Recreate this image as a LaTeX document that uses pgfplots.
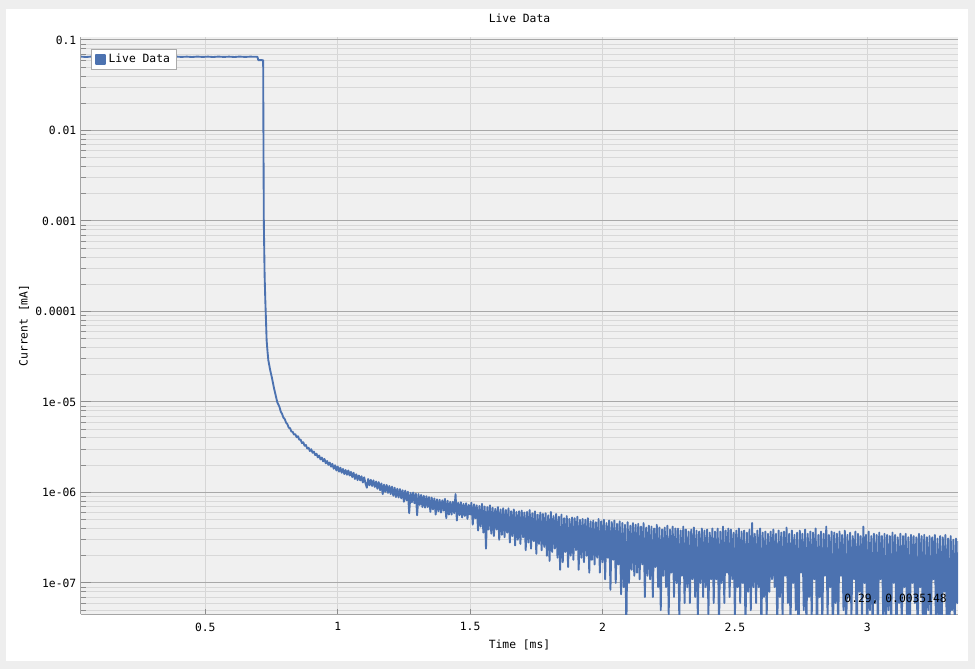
\documentclass[border=0pt]{standalone}
\usepackage{fontspec}
\setmainfont{DejaVu Sans Mono}
\usepackage{pgfplots}
\pgfplotsset{compat=1.18}
\definecolor{outerbg}{RGB}{238,238,238}
\definecolor{plotbg}{RGB}{240,240,240}
\definecolor{majorgrid}{RGB}{168,168,168}
\definecolor{minorgrid}{RGB}{216,216,216}
\definecolor{xgrid}{RGB}{214,214,214}
\definecolor{axiscol}{RGB}{165,165,165}
\definecolor{tickcol}{RGB}{140,140,140}
\definecolor{legborder}{RGB}{170,170,170}
\definecolor{liveblue}{RGB}{76,114,176}
\newcommand\lf{\fontsize{8.5}{10}\selectfont}
\begin{document}
\begin{tikzpicture}
\useasboundingbox (0,0) rectangle (731.25pt,501.75pt);
\fill[outerbg] (0,0) rectangle (731.25pt,501.75pt);
\fill[white] (4.5pt,6pt) rectangle (726pt,495pt);
\begin{axis}[
  at={(60.75pt,41.25pt)}, anchor=south west,
  scale only axis, width=657.75pt, height=432.75pt,
  ymode=log, xmin=0.0306, xmax=3.3425, ymin=4.54e-8, ymax=0.1079,
  axis lines*=left,
  axis line style={-, draw=axiscol, line width=0.75pt},
  axis background/.style={fill=plotbg},
  xtick={0.5,1,1.5,2,2.5,3},
  xticklabels={0.5,1,1.5,2,2.5,3},
  ytick={1e-7,1e-6,1e-5,1e-4,1e-3,1e-2,1e-1},
  yticklabels={1e-07,1e-06,1e-05,0.0001,0.001,0.01,0.1},
  minor ytick={5e-8,6e-8,7e-8,8e-8,9e-8,
    2e-7,3e-7,4e-7,5e-7,6e-7,7e-7,8e-7,9e-7,
    2e-6,3e-6,4e-6,5e-6,6e-6,7e-6,8e-6,9e-6,
    2e-5,3e-5,4e-5,5e-5,6e-5,7e-5,8e-5,9e-5,
    2e-4,3e-4,4e-4,5e-4,6e-4,7e-4,8e-4,9e-4,
    2e-3,3e-3,4e-3,5e-3,6e-3,7e-3,8e-3,9e-3,
    2e-2,3e-2,4e-2,5e-2,6e-2,7e-2,8e-2,9e-2},
  tick align=inside,
  major tick length=7.5pt, minor tick length=3.75pt,
  tick style={draw=tickcol, line width=0.75pt},
  xtick style={/pgfplots/major tick length=3.75pt},
  grid=both,
  major x grid style={draw=xgrid, line width=0.75pt},
  major y grid style={draw=majorgrid, line width=0.75pt},
  minor y grid style={draw=minorgrid, line width=0.75pt},
  /pgf/number format/assume math mode=true,
  tick label style={font=\lf, text=black},
  xticklabel style={yshift=-3pt},
  title={Live Data},
  title style={font=\lf, at={(axis description cs:0.5,1.019)}, anchor=center},
  xlabel={Time [ms]}, ylabel={Current [mA]},
  xlabel style={font=\lf, at={(axis description cs:0.5,-0.0537)}, anchor=center},
  ylabel style={font=\lf, at={(axis description cs:-0.065,0.5)}, anchor=center},
  legend style={at={(axis description cs:0.0114,0.979)}, anchor=north west,
    draw=legborder, fill=white, font=\lf, inner xsep=3pt, inner ysep=1.5pt,
    line width=0.75pt},
  legend image code/.code={\fill[liveblue] (0pt,-3.2pt) rectangle (6.4pt,3.2pt);},
]
\addplot[liveblue, line width=1.4pt, line join=round, mark=none] coordinates {
(0.0306,0.0655)(0.05,0.0649)(0.07,0.0656)(0.09,0.0650)(0.11,0.0655)(0.13,0.0649)(0.15,0.0656)(0.17,0.0650)
(0.19,0.0655)(0.21,0.0649)(0.23,0.0656)(0.25,0.0650)(0.27,0.0655)(0.29,0.0649)(0.31,0.0656)(0.33,0.0650)
(0.35,0.0655)(0.37,0.0649)(0.39,0.0656)(0.41,0.0650)(0.43,0.0655)(0.45,0.0649)(0.47,0.0656)(0.49,0.0650)
(0.51,0.0655)(0.53,0.0649)(0.55,0.0656)(0.57,0.0650)(0.59,0.0655)(0.61,0.0649)(0.63,0.0656)(0.65,0.0650)
(0.67,0.0655)(0.69,0.0652)(0.697,0.0652)(0.700,0.0600)(0.7185,0.0598)(0.7195,0.0100)(0.7210,0.0010)
(0.7240,2.5e-4)(0.7266,1.34e-4)(0.7295,7.5e-5)(0.7316,4.8e-5)(0.7350,3.6e-5)(0.7380,2.9e-5)(0.7450,2.25e-5)
(0.7508,1.9e-5)(0.7600,1.4e-5)(0.7720,9.9e-6)
(0.780,88.5e-7)(0.785,78.2e-7)(0.790,73.9e-7)(0.795,67.1e-7)(0.800,64.8e-7)(0.805,59.2e-7)(0.810,56.9e-7)(0.815,52.1e-7)(0.820,51.3e-7)(0.825,47.2e-7)
(0.830,46.8e-7)(0.835,43.6e-7)(0.840,44.1e-7)(0.845,40.8e-7)(0.850,41.9e-7)(0.855,38.2e-7)(0.860,38.4e-7)(0.865,35.1e-7)(0.870,35.9e-7)(0.875,32.8e-7)
(0.880,33.4e-7)(0.885,30.6e-7)(0.890,31.2e-7)(0.895,28.7e-7)(0.900,30.1e-7)(0.905,27.5e-7)(0.910,28.3e-7)(0.915,25.9e-7)(0.920,26.8e-7)(0.925,24.4e-7)
(0.930,25.6e-7)(0.935,23.2e-7)(0.940,24.3e-7)(0.945,22.1e-7)(0.950,23.5e-7)(0.955,21.0e-7)(0.960,22.3e-7)(0.965,20.2e-7)(0.970,21.4e-7)(0.975,19.3e-7)
(0.980,20.7e-7)(0.985,18.3e-7)(0.990,20.0e-7)(0.995,17.5e-7)(1.000,19.4e-7)(1.005,17.0e-7)(1.010,18.8e-7)(1.015,16.5e-7)(1.020,18.2e-7)(1.025,16.0e-7)
(1.030,17.7e-7)(1.035,15.7e-7)(1.040,17.5e-7)(1.045,15.4e-7)(1.050,16.9e-7)(1.055,14.8e-7)(1.060,16.5e-7)(1.065,14.1e-7)(1.070,15.9e-7)(1.075,13.7e-7)
(1.080,15.4e-7)(1.085,13.6e-7)(1.090,15.1e-7)(1.095,12.9e-7)(1.100,14.7e-7)(1.105,12.6e-7)(1.110,11.3e-7)(1.115,14.1e-7)(1.120,12.0e-7)(1.125,13.8e-7)
(1.130,11.8e-7)(1.135,13.6e-7)(1.140,11.5e-7)(1.145,13.2e-7)(1.150,11.0e-7)(1.155,13.0e-7)(1.160,10.6e-7)(1.165,12.6e-7)(1.170,9.6e-7)(1.175,12.2e-7)
(1.180,10.2e-7)(1.185,12.1e-7)(1.190,9.9e-7)(1.195,11.8e-7)(1.200,9.6e-7)(1.205,11.6e-7)(1.210,9.2e-7)(1.215,11.3e-7)(1.220,8.9e-7)(1.225,11.0e-7)
(1.230,8.8e-7)(1.235,10.9e-7)(1.240,8.6e-7)(1.245,10.6e-7)(1.250,7.9e-7)(1.255,10.5e-7)(1.260,8.2e-7)(1.265,10.2e-7)(1.270,5.9e-7)(1.275,9.9e-7)
(1.280,7.8e-7)(1.285,10.0e-7)(1.290,7.6e-7)(1.295,9.7e-7)(1.300,5.6e-7)(1.305,9.6e-7)(1.310,7.3e-7)(1.315,9.4e-7)(1.320,6.9e-7)(1.325,9.2e-7)
(1.330,6.8e-7)(1.335,9.1e-7)(1.340,6.9e-7)(1.345,8.9e-7)(1.350,6.1e-7)(1.355,8.8e-7)(1.360,6.5e-7)(1.365,8.6e-7)(1.370,5.7e-7)(1.375,8.4e-7)
(1.380,6.2e-7)(1.385,8.3e-7)(1.390,6.0e-7)(1.395,8.2e-7)(1.400,6.3e-7)(1.405,8.5e-7)(1.410,5.2e-7)(1.415,8.1e-7)(1.420,5.7e-7)(1.425,7.9e-7)
(1.430,5.7e-7)(1.435,7.9e-7)(1.440,5.9e-7)(1.445,9.6e-7)(1.450,4.9e-7)(1.455,7.7e-7)(1.460,5.6e-7)(1.465,7.8e-7)(1.470,5.3e-7)(1.475,7.5e-7)
(1.480,5.5e-7)(1.485,7.6e-7)(1.490,5.1e-7)(1.495,7.3e-7)(1.500,5.7e-7)(1.505,7.7e-7)(1.510,4.4e-7)(1.515,7.4e-7)(1.520,5.2e-7)(1.525,7.2e-7)
(1.530,3.8e-7)(1.535,7.1e-7)(1.540,4.2e-7)(1.545,7.5e-7)(1.550,3.6e-7)(1.555,7.0e-7)(1.560,2.4e-7)(1.565,6.9e-7)(1.570,3.9e-7)(1.575,7.2e-7)
(1.580,3.5e-7)(1.585,6.8e-7)(1.590,3.3e-7)(1.595,6.6e-7)(1.600,3.9e-7)(1.605,6.9e-7)(1.610,3.0e-7)(1.615,6.5e-7)(1.620,3.4e-7)(1.625,6.7e-7)
(1.630,3.2e-7)(1.635,6.4e-7)(1.640,3.6e-7)(1.645,6.7e-7)(1.650,2.8e-7)(1.655,6.2e-7)(1.660,3.3e-7)(1.665,6.5e-7)(1.670,2.6e-7)(1.675,6.1e-7)
(1.680,3.0e-7)(1.685,6.2e-7)(1.690,2.7e-7)(1.695,6.3e-7)(1.700,3.2e-7)(1.705,6.0e-7)(1.710,2.3e-7)(1.715,6.1e-7)(1.720,2.8e-7)(1.725,6.4e-7)
(1.730,2.4e-7)(1.735,5.9e-7)(1.740,2.9e-7)(1.745,6.2e-7)(1.750,2.1e-7)(1.755,5.7e-7)(1.760,2.7e-7)(1.765,6.0e-7)(1.770,2.3e-7)(1.775,5.8e-7)
(1.780,2.5e-7)(1.785,5.9e-7)(1.790,2.0e-7)(1.795,5.6e-7)(1.800,1.75e-7)(1.805,6.1e-7)(1.810,2.2e-7)(1.815,5.5e-7)(1.820,2.4e-7)(1.825,5.8e-7)
(1.830,1.9e-7)(1.835,5.4e-7)(1.840,1.4e-7)(1.845,5.7e-7)(1.850,1.7e-7)(1.855,5.2e-7)(1.860,2.2e-7)(1.865,5.5e-7)(1.870,1.5e-7)(1.875,5.1e-7)
(1.880,2.0e-7)(1.885,5.3e-7)(1.890,1.8e-7)(1.895,5.2e-7)(1.900,2.3e-7)(1.905,5.4e-7)(1.910,1.4e-7)(1.915,5.0e-7)(1.920,1.9e-7)(1.925,5.1e-7)
(1.930,1.7e-7)(1.935,5.0e-7)(1.940,2.0e-7)(1.945,5.2e-7)(1.950,1.3e-7)(1.955,4.8e-7)(1.960,1.8e-7)(1.965,4.9e-7)(1.970,1.6e-7)(1.975,4.7e-7)
(1.980,1.9e-7)(1.985,5.1e-7)(1.990,1.3e-7)(1.995,4.8e-7)(2.000,1.7e-7)(2.005,5.0e-7)(2.010,1.1e-7)(2.015,4.6e-7)(2.020,1.9e-7)(2.025,4.9e-7)
(2.030,0.84e-7)(2.035,4.7e-7)(2.040,1.8e-7)(2.045,4.9e-7)(2.050,1.0e-7)(2.055,4.5e-7)(2.060,1.6e-7)(2.065,4.8e-7)(2.070,0.75e-7)(2.075,4.6e-7)
(2.080,0.9e-7)(2.085,4.4e-7)(2.090,0.3e-7)(2.095,4.7e-7)(2.100,1.0e-7)(2.105,4.3e-7)(2.110,1.4e-7)(2.115,4.6e-7)(2.120,1.2e-7)(2.125,4.4e-7)
(2.130,1.3e-7)(2.135,4.5e-7)(2.140,1.1e-7)(2.145,4.2e-7)(2.150,1.6e-7)(2.155,4.6e-7)(2.160,0.7e-7)(2.165,4.1e-7)(2.170,1.2e-7)(2.175,4.3e-7)
(2.180,1.1e-7)(2.185,4.2e-7)(2.190,0.7e-7)(2.195,4.0e-7)(2.200,1.5e-7)(2.205,4.4e-7)(2.210,0.9e-7)(2.215,4.1e-7)(2.220,0.5e-7)(2.225,3.9e-7)
(2.230,1.2e-7)(2.235,4.1e-7)(2.240,0.9e-7)(2.245,4.3e-7)(2.250,0.45e-7)(2.255,3.9e-7)(2.260,1.3e-7)(2.265,4.2e-7)(2.270,0.7e-7)(2.275,4.0e-7)
(2.280,1.0e-7)(2.285,4.0e-7)(2.290,0.4e-7)(2.295,3.8e-7)(2.300,1.2e-7)(2.305,4.2e-7)(2.310,0.6e-7)(2.315,3.9e-7)(2.320,0.9e-7)(2.325,3.7e-7)
(2.330,0.6e-7)(2.335,3.9e-7)(2.340,1.1e-7)(2.345,4.1e-7)(2.350,0.7e-7)(2.355,3.8e-7)(2.360,0.4e-7)(2.365,3.7e-7)(2.370,1.0e-7)(2.375,4.0e-7)
(2.380,0.7e-7)(2.385,3.8e-7)(2.390,0.9e-7)(2.395,3.9e-7)(2.400,0.45e-7)(2.405,3.6e-7)(2.410,1.1e-7)(2.415,4.0e-7)(2.420,0.6e-7)(2.425,3.7e-7)
(2.430,1.1e-7)(2.435,4.0e-7)(2.440,0.3e-7)(2.445,3.7e-7)(2.450,1.0e-7)(2.455,4.2e-7)(2.460,0.6e-7)(2.465,3.8e-7)(2.470,1.3e-7)(2.475,4.0e-7)
(2.480,0.7e-7)(2.485,3.9e-7)(2.490,1.1e-7)(2.495,3.6e-7)(2.500,0.4e-7)(2.505,3.8e-7)(2.510,0.9e-7)(2.515,4.0e-7)(2.520,0.6e-7)(2.525,3.7e-7)
(2.530,1.0e-7)(2.535,3.8e-7)(2.540,0.3e-7)(2.545,3.6e-7)(2.550,0.8e-7)(2.555,3.9e-7)(2.560,0.5e-7)(2.565,4.6e-7)(2.570,0.9e-7)(2.575,3.5e-7)
(2.580,0.6e-7)(2.585,3.8e-7)(2.590,0.9e-7)(2.595,4.0e-7)(2.600,0.3e-7)(2.605,3.6e-7)(2.610,0.7e-7)(2.615,3.7e-7)(2.620,0.4e-7)(2.625,3.5e-7)
(2.630,0.8e-7)(2.635,3.7e-7)(2.640,1.1e-7)(2.645,3.9e-7)(2.650,0.9e-7)(2.655,3.5e-7)(2.660,0.3e-7)(2.665,3.8e-7)(2.670,0.7e-7)(2.675,3.6e-7)
(2.680,0.4e-7)(2.685,3.7e-7)(2.690,1.2e-7)(2.695,4.1e-7)(2.700,0.6e-7)(2.705,3.5e-7)(2.710,0.3e-7)(2.715,3.8e-7)(2.720,1.0e-7)(2.725,3.4e-7)
(2.730,0.5e-7)(2.735,3.6e-7)(2.740,0.2e-7)(2.745,3.8e-7)(2.750,1.3e-7)(2.755,3.5e-7)(2.760,0.5e-7)(2.765,3.9e-7)(2.770,0.3e-7)(2.775,3.5e-7)
(2.780,0.7e-7)(2.785,3.7e-7)(2.790,0.4e-7)(2.795,3.6e-7)(2.800,1.1e-7)(2.805,4.0e-7)(2.810,0.2e-7)(2.815,3.4e-7)(2.820,0.7e-7)(2.825,3.7e-7)
(2.830,0.3e-7)(2.835,3.5e-7)(2.840,1.2e-7)(2.845,4.2e-7)(2.850,0.4e-7)(2.855,3.4e-7)(2.860,0.9e-7)(2.865,3.7e-7)(2.870,0.2e-7)(2.875,3.6e-7)
(2.880,0.6e-7)(2.885,3.5e-7)(2.890,0.3e-7)(2.895,3.7e-7)(2.900,1.2e-7)(2.905,3.4e-7)(2.910,0.5e-7)(2.915,3.8e-7)(2.920,0.2e-7)(2.925,3.4e-7)
(2.930,0.7e-7)(2.935,3.6e-7)(2.940,0.4e-7)(2.945,3.3e-7)(2.950,1.1e-7)(2.955,3.7e-7)(2.960,0.2e-7)(2.965,3.5e-7)(2.970,0.8e-7)(2.975,3.3e-7)
(2.980,0.4e-7)(2.985,4.2e-7)(2.990,1.0e-7)(2.995,3.4e-7)(3.000,0.2e-7)(3.005,3.7e-7)(3.010,0.5e-7)(3.015,3.3e-7)(3.020,0.3e-7)(3.025,3.5e-7)
(3.030,0.6e-7)(3.035,3.4e-7)(3.040,0.3e-7)(3.045,3.6e-7)(3.050,1.1e-7)(3.055,3.3e-7)(3.060,0.4e-7)(3.065,3.5e-7)(3.070,0.2e-7)(3.075,3.4e-7)
(3.080,0.5e-7)(3.085,3.3e-7)(3.090,0.3e-7)(3.095,3.6e-7)(3.100,1.0e-7)(3.105,3.4e-7)(3.110,0.2e-7)(3.115,3.2e-7)(3.120,0.6e-7)(3.125,3.5e-7)
(3.130,0.3e-7)(3.135,3.3e-7)(3.140,0.9e-7)(3.145,3.5e-7)(3.150,0.4e-7)(3.155,3.2e-7)(3.160,0.2e-7)(3.165,3.4e-7)(3.170,1.0e-7)(3.175,3.3e-7)
(3.180,0.6e-7)(3.185,3.2e-7)(3.190,0.2e-7)(3.195,3.5e-7)(3.200,0.9e-7)(3.205,3.3e-7)(3.210,0.3e-7)(3.215,3.4e-7)(3.220,0.2e-7)(3.225,3.2e-7)
(3.230,0.5e-7)(3.235,3.3e-7)(3.240,0.3e-7)(3.245,3.2e-7)(3.250,1.1e-7)(3.255,3.4e-7)(3.260,0.2e-7)(3.265,3.1e-7)(3.270,0.4e-7)(3.275,3.3e-7)
(3.280,0.2e-7)(3.285,3.2e-7)(3.290,0.8e-7)(3.295,3.4e-7)(3.300,0.3e-7)(3.305,3.1e-7)(3.310,0.2e-7)(3.315,3.3e-7)(3.320,0.5e-7)(3.325,3.0e-7)
(3.330,0.3e-7)(3.335,3.1e-7)(3.340,0.6e-7)(3.345,2.9e-7)
};
\addlegendentry{Live Data}
\node[anchor=east, font=\lf, text=black, inner sep=0pt] at (axis description cs:0.9875,0.026) {0.29, 0.0035148};
\end{axis}
\end{tikzpicture}
\end{document}
